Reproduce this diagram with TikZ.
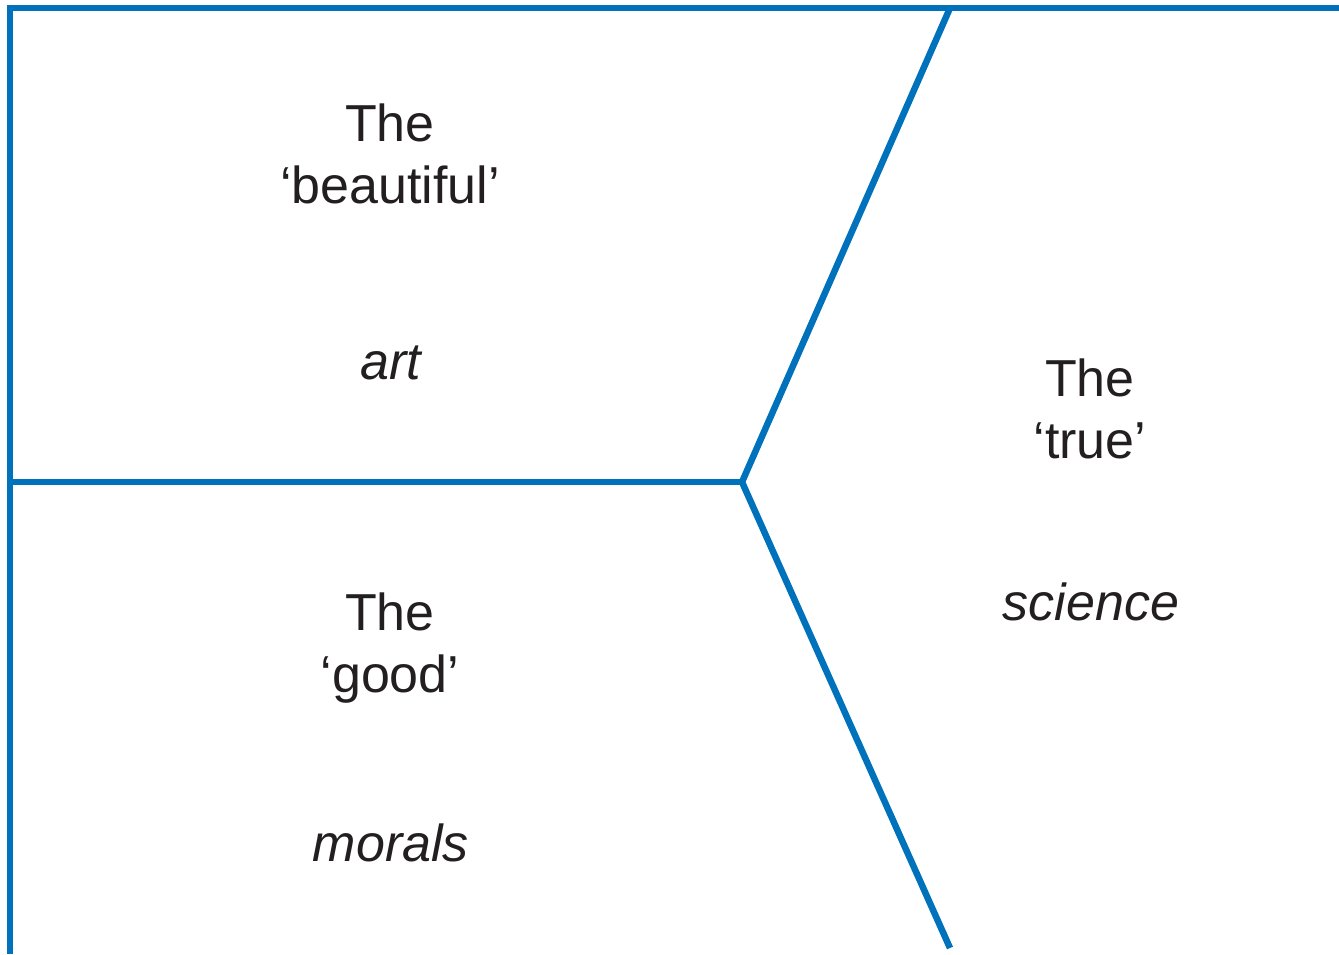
\documentclass[tikz,border=0pt]{standalone}
\usepackage{fontspec}
\setmainfont{Liberation Sans}
\usetikzlibrary{positioning}
\definecolor{rule}{RGB}{0,114,188}
\definecolor{ink}{RGB}{35,31,32}
\tikzset{
  divider/.style={draw=rule,line width=6.5pt,line join=miter},
  realm/.style={text=ink,inner sep=0pt,align=center,font=\fontsize{52}{62}\selectfont},
  field/.style={text=ink,inner sep=0pt,anchor=base,font=\fontsize{52}{62}\selectfont\itshape},
}
\begin{document}
\begin{tikzpicture}[x=1pt,y=-1pt]
  \useasboundingbox (0,0) rectangle (1339,954);
  % frame and dividers
  \coordinate (tr) at (1339,8);
  \coordinate (tl) at (10,8);
  \coordinate (bl) at (10,954);
  \coordinate (ml) at (10,482);
  \coordinate (hub) at (742,482);
  \coordinate (up) at (950,8);
  \coordinate (down) at (950,948);
  \draw[divider] (tr) -- (tl) -- (bl);
  \draw[divider] (ml) -- (hub);
  \draw[divider] (up) -- (hub) -- (down);
  % labels
  \node[realm,anchor=north] (beautiful) at (390,104) {The\\‘beautiful’};
  \node[realm,anchor=north] (good) at (390,593) {The\\‘good’};
  \node[realm,anchor=north] (true) at (1090,359) {The\\‘true’};
  \foreach \n/\x/\y/\t in {art/391/379/art,morals/391/861/morals,science/1091/620/science}
    \node[field] (\n) at (\x,\y) {\t};
\end{tikzpicture}
\end{document}
